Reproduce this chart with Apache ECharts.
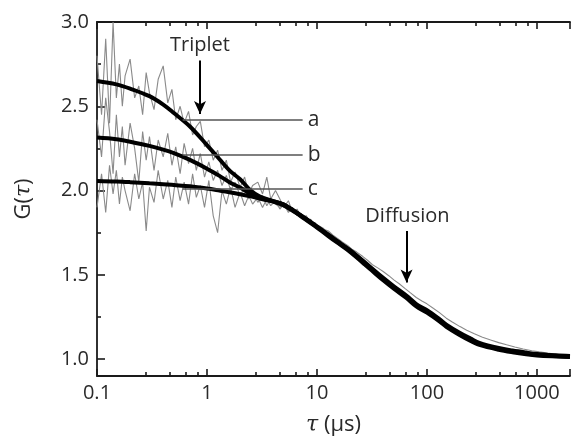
<!DOCTYPE html>
<html><head><meta charset="utf-8">
<script src="https://cdn.jsdelivr.net/npm/echarts@6/dist/echarts.min.js"></script>
<style>html,body{margin:0;padding:0;background:#fff}#c{width:571px;height:442px}</style>
</head><body><div id="c"></div>
<script>
// ---- tick label values ----
const xTickLabels = [0.1, 1, 10, 100, 1000];
const yTickLabels = [1.0, 1.5, 2.0, 2.5, 3.0];

// ---- measured (noisy) correlation data ----
const tauData = [0.1,0.11,0.12,0.13,0.14,0.15,0.16,0.17,0.18,0.2,0.22,0.24,0.26,0.28,0.3,0.33,0.36,0.4,0.44,0.48,0.52,0.57,0.62,0.68,0.74,0.8,0.87,0.95,1.04,1.14,1.25,1.37,1.5,1.64,1.8,2.0,2.2,2.4,2.6,2.9,3.2,3.5,3.8,4.2,4.6,5.0,5.5,6.0,6.6,7.2,8.0,8.8,9.6,10.5,11.5,12.7,14,15.5,17,19,21,23,26,29,32,36,40,45,50,56,63,70,80,90,100,115,130,150,170,200,230,270,320,380,450,530,630,750,900,1050,1250,1500,1750,2000];
const grayA = [2.80,2.45,2.90,2.40,3.00,2.55,2.75,2.50,2.68, 2.78,2.55,2.62,2.45,2.70, 2.58,2.48,2.66, 2.74,2.52,2.60, 2.42,2.50, 2.40,2.47, 2.33,2.38,2.41,2.26, 2.30,2.18,2.24,2.12, 2.18,2.05,2.11, 2.02,2.08,1.98,2.03,2.05, 1.98,2.08,1.95, 2.00,1.95, 1.90,1.94, 1.87,1.89, 1.84,1.85,1.80,1.81, 1.77,1.77,1.76,1.735,1.715,1.695,1.675, 1.65,1.635,1.61,1.585, 1.56,1.54,1.52,1.495, 1.47,1.447,1.42,1.396, 1.366,1.345,1.328,1.300, 1.276,1.243,1.220, 1.193,1.172,1.150, 1.130,1.113,1.098,1.085, 1.072,1.060,1.050, 1.043,1.036,1.029,1.024,1.020];
const grayB = [2.42,2.20,2.55,2.35,2.10,2.45,2.20,2.38,2.15, 2.40,2.25,2.05,2.35,2.18, 2.32,2.12,2.30, 2.20,2.34,2.15, 2.26,2.10, 2.28,2.16, 2.25,2.12,2.22,2.08, 2.17,2.06,2.12,2.03, 2.09,2.00,2.05, 1.97,2.02,1.95,1.99,1.93, 1.97,1.91,1.95, 1.92,1.90, 1.93,1.88, 1.89,1.86, 1.85,1.82,1.82,1.79, 1.78,1.75,1.735,1.72,1.71,1.675,1.65, 1.615,1.60,1.56,1.545, 1.52,1.495,1.47,1.45, 1.425,1.40,1.375,1.35, 1.32,1.30,1.283,1.255, 1.23,1.198,1.175, 1.148,1.128,1.108, 1.088,1.072,1.06,1.05, 1.042,1.035,1.03, 1.026,1.022,1.019,1.017,1.016];
const grayC = [1.90,2.10,1.87,2.15,1.98,2.12,1.92,2.08,2.00, 1.88,2.10,1.95,2.05,1.76, 2.02,1.93,2.12, 1.95,2.06,1.90, 2.08,1.94, 2.05,1.92, 2.10,1.96,2.03,1.90, 2.06,1.85,1.75,2.00, 1.92,2.02,1.90, 1.99,1.91,1.97,1.92,1.96, 1.90,1.95,1.91, 1.94,1.89, 1.92,1.87, 1.90,1.85, 1.86,1.82,1.83,1.78, 1.79,1.775,1.74,1.73,1.695,1.685,1.66, 1.635,1.605,1.585,1.55, 1.53,1.50,1.475,1.45, 1.425,1.40,1.375,1.35, 1.32,1.30,1.283,1.255, 1.23,1.198,1.175, 1.148,1.128,1.108, 1.088,1.072,1.06,1.05, 1.042,1.035,1.03, 1.026,1.022,1.019,1.017,1.016];

// ---- fitted curves ----
const fitTau = [0.1,0.15,0.2,0.3,0.4,0.5,0.7,1,1.3,1.6,2,2.5,3,4,5,7,10,15,20,30,40,50,65,80,100,130,150,200,250,300,450,600,800,1000,1500,2000];
const fitA = [2.650,2.630,2.605,2.560,2.510,2.460,2.380,2.270,2.186,2.120,2.067,2.000,1.966,1.938,1.917,1.857,1.788,1.704,1.647,1.551,1.482,1.432,1.377,1.327,1.290,1.237,1.205,1.155,1.122,1.097,1.066,1.051,1.039,1.031,1.023,1.019];
const fitB = [2.315,2.305,2.290,2.265,2.243,2.222,2.182,2.130,2.087,2.050,2.018,1.980,1.958,1.937,1.915,1.855,1.785,1.700,1.642,1.545,1.475,1.425,1.370,1.320,1.283,1.230,1.198,1.148,1.115,1.090,1.060,1.045,1.033,1.026,1.019,1.016];
const fitC = [2.057,2.054,2.050,2.043,2.038,2.033,2.025,2.012,2.000,1.990,1.978,1.966,1.953,1.934,1.912,1.852,1.780,1.695,1.636,1.538,1.468,1.418,1.363,1.313,1.276,1.224,1.192,1.142,1.108,1.085,1.056,1.041,1.029,1.022,1.016,1.013];

// ---- annotations (data units) ----
const curveLabels = ['a', 'b', 'c'];
const curveLabelLevels = [2.42, 2.212, 2.012];
const curveLabelSpan = [0.601, 7.41];
const tripletArrow = [[0.864, 2.771], [0.864, 2.454]];
const tripletText = [0.864, 2.859];
const diffusionArrow = [[65.3, 1.76], [65.3, 1.454]];
const diffusionText = [66.5, 1.847];

const zip = (xs, ys) => xs.map((x, i) => [x, ys[i]]);
const FONT = 'Open Sans';
const AX = '#1a1a1a';
const TXT = '#2a2a2a';
const tickLine = { color: AX, width: 1.6 };

const baseX = {
  type: 'log', logBase: 10, min: 0.1, max: 2000,
  splitLine: { show: false }, splitArea: { show: false }, minorSplitLine: { show: false },
  axisLine: { onZero: false, lineStyle: { color: AX, width: 1.8 } },
  axisTick: { show: true, inside: true, length: 7, lineStyle: tickLine },
  minorTick: { show: true, length: 4, lineStyle: tickLine }
};

const chart = echarts.init(document.getElementById('c'));
const grayStyle = { color: '#8a8a8a', width: 1.1 };
const blackStyle = { color: '#000', width: 4 };

chart.setOption({
  animation: false,
  backgroundColor: '#fff',
  grid: { left: 97, top: 22, right: 1, bottom: 66 },
  xAxis: [
    Object.assign({}, baseX, {
      position: 'bottom',
      axisLabel: { customValues: xTickLabels, formatter: v => String(+Number(v).toPrecision(4)),
                   fontFamily: FONT, fontSize: 20, color: TXT, margin: 7 },
      name: '{t|τ}{g| (μs)}', nameLocation: 'middle', nameGap: 38,
      nameTextStyle: { rich: {
        t: { fontFamily: 'DejaVu Serif', fontStyle: 'italic', fontSize: 22, color: TXT },
        g: { fontFamily: FONT, fontSize: 22, color: TXT } } }
    }),
    Object.assign({}, baseX, { position: 'top', axisLabel: { show: false } })
  ],
  yAxis: [
    {
      type: 'value', min: 0.9, max: 3.0, position: 'left',
      splitLine: { show: false }, minorSplitLine: { show: false },
      axisLine: { onZero: false, lineStyle: { color: AX, width: 1.8 } },
      axisTick: { show: true, inside: true, length: 8, lineStyle: tickLine },
      minorTick: { show: true, splitNumber: 2, length: 4, lineStyle: tickLine },
      axisLabel: { customValues: yTickLabels, formatter: v => Number(v).toFixed(1),
                   fontFamily: FONT, fontSize: 20, color: TXT, margin: 8 },
      name: '{g|G(}{t|τ}{g|)}', nameLocation: 'middle', nameGap: 62,
      nameTextStyle: { rich: {
        t: { fontFamily: 'DejaVu Serif', fontStyle: 'italic', fontSize: 22, color: TXT },
        g: { fontFamily: FONT, fontSize: 22, color: TXT } } }
    }
  ],
  series: [
    { type: 'line', data: zip(tauData, grayA), showSymbol: false, lineStyle: grayStyle, z: 2 },
    { type: 'line', data: zip(tauData, grayB), showSymbol: false, lineStyle: grayStyle, z: 2 },
    { type: 'line', data: zip(tauData, grayC), showSymbol: false, lineStyle: grayStyle, z: 2 },
    { type: 'line', data: zip(fitTau, fitA), showSymbol: false, smooth: 0.35, lineStyle: blackStyle, z: 4,
      markLine: {
        silent: true, symbol: ['none', 'arrow'], symbolSize: [9, 13],
        lineStyle: { color: '#000', width: 2, type: 'solid' },
        label: { show: false },
        data: [
          [{ coord: tripletArrow[0] }, { coord: tripletArrow[1] }],
          [{ coord: diffusionArrow[0] }, { coord: diffusionArrow[1] }]
        ]
      },
      markPoint: {
        silent: true, symbol: 'circle', symbolSize: 0,
        label: { show: true, position: 'inside', fontFamily: FONT, fontSize: 20, color: TXT, formatter: '{b}' },
        data: [
          { name: 'Triplet', coord: tripletText },
          { name: 'Diffusion', coord: diffusionText }
        ]
      }
    },
    { type: 'line', data: zip(fitTau, fitB), showSymbol: false, smooth: 0.35, lineStyle: blackStyle, z: 4 },
    { type: 'line', data: zip(fitTau, fitC), showSymbol: false, smooth: 0.35, lineStyle: blackStyle, z: 4,
      markLine: {
        silent: true, symbol: ['none', 'none'],
        lineStyle: { color: '#555', width: 1.5, type: 'solid' },
        label: { show: true, position: 'end', distance: 5, formatter: '{b}', fontFamily: FONT, fontSize: 21, color: TXT },
        data: curveLabels.map((n, i) => [
          { name: n, coord: [curveLabelSpan[0], curveLabelLevels[i]] },
          { coord: [curveLabelSpan[1], curveLabelLevels[i]] }
        ])
      }
    }
  ]
});
</script></body></html>
